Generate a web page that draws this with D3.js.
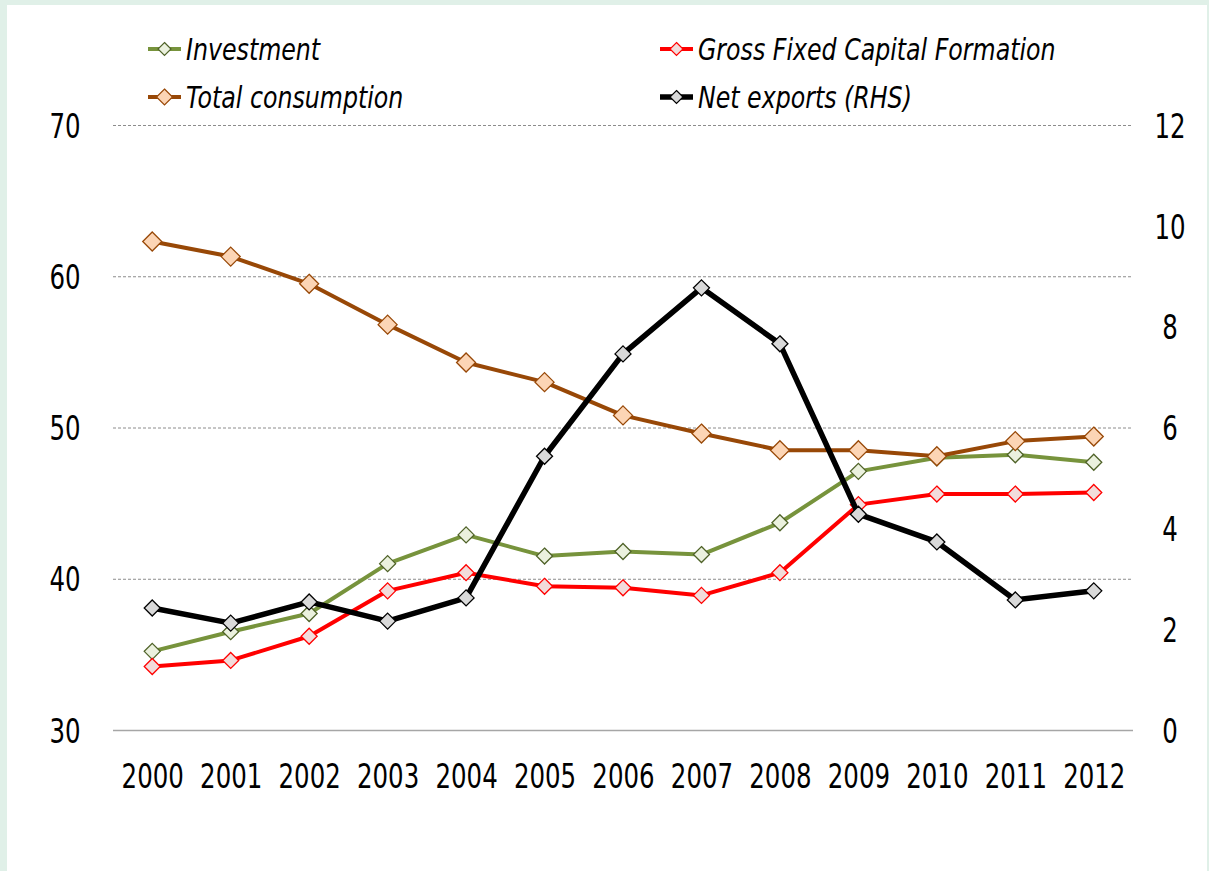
<!DOCTYPE html>
<html>
<head>
<meta charset="utf-8">
<script src="https://cdn.jsdelivr.net/npm/d3@7/dist/d3.min.js"></script>
<style>
  body { margin: 0; background: #e0f0e8; }
  #chart { position: absolute; left: 7px; top: 5px; width: 1200px; height: 866px; background: #fff; }
  svg { position: absolute; left: -7px; top: -5px; }
  text { font-family: "DejaVu Sans", sans-serif; fill: #000; }
</style>
</head>
<body>
<div id="chart"></div>
<script>
// data
var years = [2000, 2001, 2002, 2003, 2004, 2005, 2006, 2007, 2008, 2009, 2010, 2011, 2012];
var investment = [35.2, 36.5, 37.7, 41.0, 42.9, 41.5, 41.8, 41.6, 43.7, 47.1, 48.0, 48.2, 47.7];
var gfcf = [34.2, 34.6, 36.2, 39.2, 40.4, 39.5, 39.4, 38.9, 40.4, 44.9, 45.6, 45.6, 45.7];
var consumption = [62.3, 61.3, 59.5, 56.8, 54.3, 53.0, 50.8, 49.6, 48.5, 48.5, 48.1, 49.1, 49.4];
var netExports = [2.42, 2.12, 2.54, 2.16, 2.62, 5.43, 7.46, 8.77, 7.66, 4.28, 3.73, 2.58, 2.76];
var leftTicks = [30, 40, 50, 60, 70];
var rightTicks = [0, 2, 4, 6, 8, 10, 12];

var width = 1209, height = 871;
var axisSquash = 'scale(0.72,1)';

var svg = d3.select('#chart').append('svg')
    .attr('width', width)
    .attr('height', height);

var x = d3.scalePoint()
    .domain(years)
    .range([113, 1133])
    .padding(0.5);

var yL = d3.scaleLinear().domain([30, 70]).range([730, 125]);
var yR = d3.scaleLinear().domain([0, 12]).range([730, 125]);

//gridlines
svg.append('g')
  .selectAll('line')
  .data(leftTicks.slice(1))
  .enter().append('line')
    .attr('x1', 113).attr('x2', 1133)
    .attr('y1', function (d) { return yL(d) + 0.5; })
    .attr('y2', function (d) { return yL(d) + 0.5; })
    .attr('stroke', '#8c8c8c')
    .attr('stroke-width', 1)
    .attr('stroke-dasharray', '3,2');

svg.append('line')
    .attr('x1', 113).attr('x2', 1133)
    .attr('y1', yL(30) + 0.5).attr('y2', yL(30) + 0.5)
    .attr('stroke', '#a6a6a6')
    .attr('stroke-width', 1.5);

//axes
var leftAxis = d3.axisLeft(yL).tickValues(leftTicks).tickSize(0).tickPadding(0);
var gL = svg.append('g').attr('transform', 'translate(65,0)').call(leftAxis);
gL.select('.domain').remove();
gL.selectAll('text')
    .attr('font-size', 34).attr('text-anchor', 'middle')
    .attr('dy', '0.36em').attr('x', 0)
    .attr('transform', axisSquash);

var rightAxis = d3.axisRight(yR).tickValues(rightTicks).tickSize(0).tickPadding(0);
var gR = svg.append('g').attr('transform', 'translate(1170,0)').call(rightAxis);
gR.select('.domain').remove();
gR.selectAll('text')
    .attr('font-size', 34).attr('text-anchor', 'middle')
    .attr('dy', '0.36em').attr('x', 0)
    .attr('transform', axisSquash);

var bottomAxis = d3.axisBottom(x).tickSize(0).tickPadding(0).tickFormat(d3.format('d'));
var gB = svg.append('g').attr('transform', 'translate(0,788)').call(bottomAxis);
gB.select('.domain').remove();
gB.selectAll('text')
    .attr('font-size', 34).attr('dy', 0)
    .attr('transform', axisSquash);

//series
var series = [
  { name: 'Investment', values: investment, scale: yL, line: '#77933c', fill: '#ebf1de', stroke: '#4f6228', lw: 4, ms: 8 },
  { name: 'Gross Fixed Capital Formation', values: gfcf, scale: yL, line: '#ff0000', fill: '#f2dcdb', stroke: '#ff0000', lw: 4, ms: 8 },
  { name: 'Total consumption', values: consumption, scale: yL, line: '#984807', fill: '#fcd5b5', stroke: '#984807', lw: 4, ms: 9.5 },
  { name: 'Net exports (RHS)', values: netExports, scale: yR, line: '#000000', fill: '#d9d9d9', stroke: '#000000', lw: 5.5, ms: 8 }
];

function diamond(s) {
  return 'M0,' + (-s) + 'L' + s + ',0L0,' + s + 'L' + (-s) + ',0Z';
}

series.forEach(function (s) {
  var line = d3.line()
    .x(function (d, i) { return x(years[i]); })
    .y(function (d) { return s.scale(d); });

  var g = svg.append('g');
  g.append('path')
    .datum(s.values)
    .attr('d', line)
    .attr('fill', 'none')
    .attr('stroke', s.line)
    .attr('stroke-width', s.lw)
    .attr('stroke-linejoin', 'round');

  g.selectAll('.marker')
    .data(s.values)
  .enter().append('path')
    .attr('class', 'marker')
    .attr('transform', function (d, i) { return 'translate(' + x(years[i]) + ',' + s.scale(d) + ')'; })
    .attr('d', diamond(s.ms))
    .attr('fill', s.fill)
    .attr('stroke', s.stroke)
    .attr('stroke-width', 1.3);
});

//legend
var legendPos = [[148, 49], [660, 49], [148, 97], [660, 97]];
series.forEach(function (s, i) {
  var p = legendPos[i];
  var lg = svg.append('g').attr('transform', 'translate(' + p[0] + ',' + p[1] + ')');
  lg.append('line')
    .attr('x1', 0).attr('x2', 33)
    .attr('stroke', s.line)
    .attr('stroke-width', s.lw);
  lg.append('path')
    .attr('transform', 'translate(16.5,0)')
    .attr('d', diamond(s.ms - 1.5))
    .attr('fill', s.fill)
    .attr('stroke', s.stroke)
    .attr('stroke-width', 1.2);
  lg.append('text')
    .attr('transform', 'translate(38,0) scale(0.79,1)')
    .attr('dy', '0.35em')
    .attr('font-size', 30)
    .attr('font-style', 'italic')
    .text(s.name);
});
</script>
</body>
</html>
